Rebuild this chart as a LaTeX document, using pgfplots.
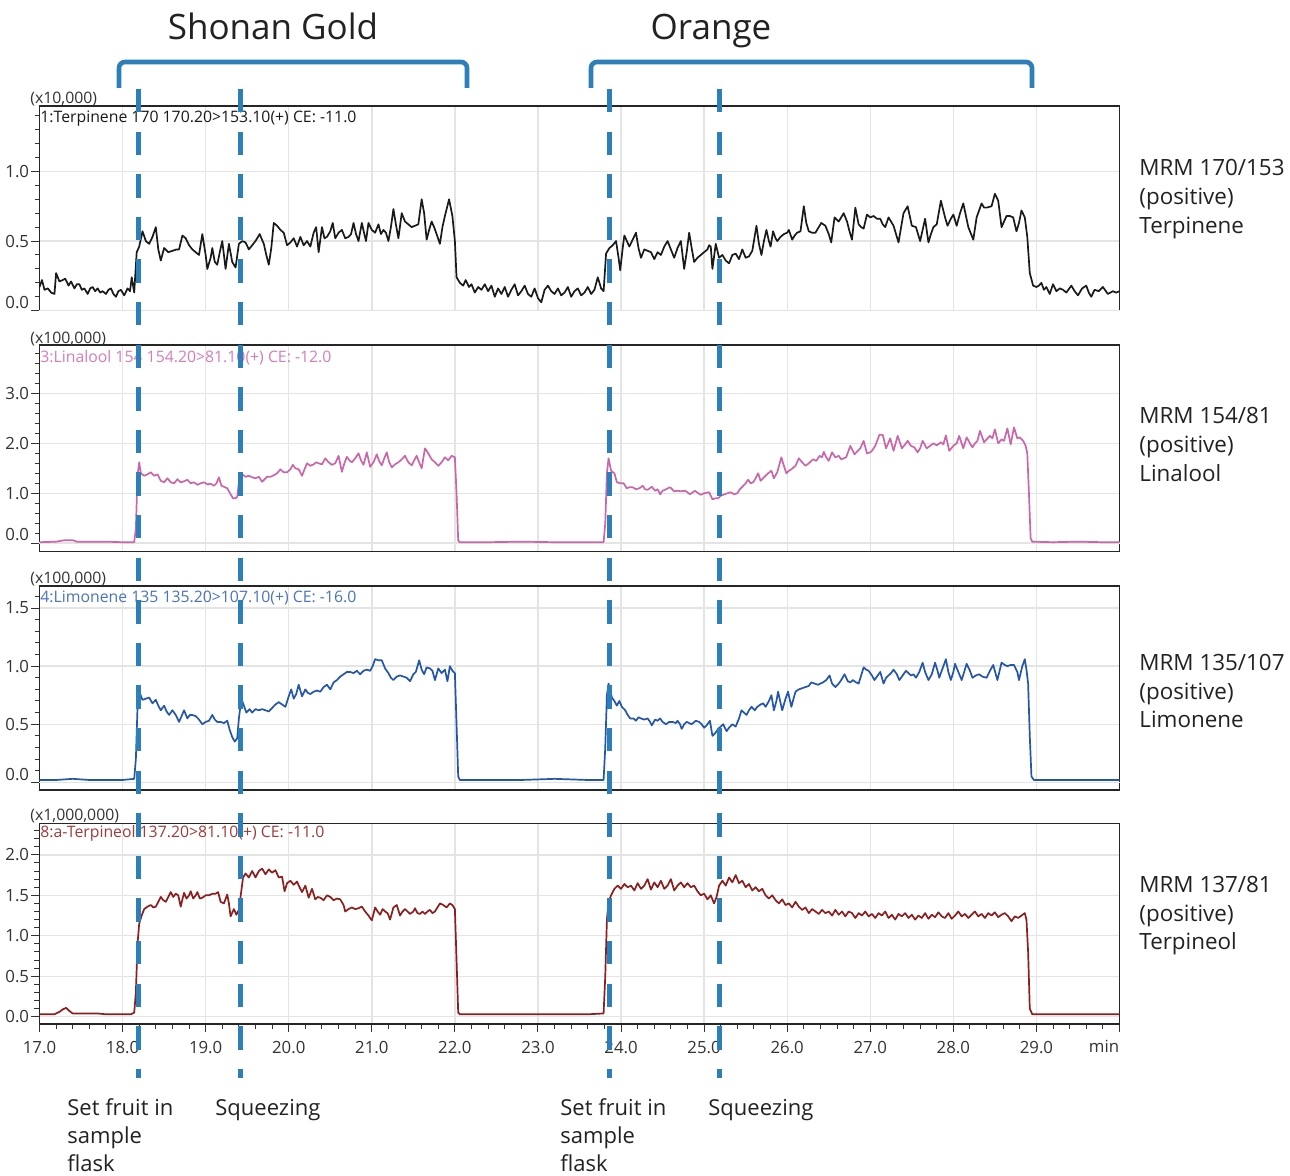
\documentclass[border=0pt]{standalone}
\usepackage{fontspec}
\setmainfont{Open Sans}
\usepackage{pgfplots}
\pgfplotsset{compat=1.18}
\definecolor{dashblue}{HTML}{2C7FB8}
\definecolor{terp}{HTML}{1A1A1A}
\definecolor{lina}{HTML}{CC66AA}
\definecolor{linatext}{HTML}{D77CBC}
\definecolor{limo}{HTML}{2456AA}
\definecolor{limotext}{HTML}{4A74BE}
\definecolor{terpol}{HTML}{8C1E1E}
\definecolor{terpoltext}{HTML}{A23A3A}
\definecolor{gridc}{HTML}{E4E4E4}
\definecolor{tickc}{HTML}{333333}
\definecolor{textc}{HTML}{222222}
\newcommand{\smallf}{\fontsize{7.9}{9}\selectfont}
\newcommand{\bigf}{\fontsize{11.2}{14}\selectfont}
\pgfplotsset{
  panel/.style={
    scale only axis, width=540pt, xmin=17, xmax=30,
    axis line style={black!85, line width=0.6pt},
    xtick={17,...,30},
    grid=major, major grid style={gridc, line width=0.7pt},
    tick align=outside, ytick pos=left, xtick pos=bottom,
    major tick length=4pt, minor tick length=2pt,
    tick style={tickc, line width=0.5pt},
    /pgf/number format/assume math mode=true,
    tick label style={font=\fontsize{8.4}{10}\selectfont, text=tickc},
    yticklabel style={/pgf/number format/fixed, /pgf/number format/fixed zerofill, /pgf/number format/precision=1, inner xsep=1pt},
    clip mode=individual,
    every axis plot/.append style={line width=0.85pt, line join=round},
  },
  upper/.style={panel, xticklabels={}, xtick style={draw=none}},
}
\begin{document}
\begin{tikzpicture}
\fill[white] (0,0) rectangle (645pt,588pt);
\useasboundingbox (0,0) rectangle (645pt,588pt);

% ---------- Panel 1: Terpinene ----------
\begin{axis}[upper, at={(19.75pt,432.65pt)}, anchor=south west, height=102.35pt,
  ymin=0, ymax=1.47, ytick={0.5,1}, minor ytick={0.1,0.2,...,1.41},
  extra y ticks={0}, extra y tick labels={0.0}, extra y tick style={yticklabel style={yshift=3.85pt}}]
\addplot[terp] coordinates {
(17.00,0.17) (17.03,0.22) (17.06,0.15) (17.10,0.16) (17.14,0.13) (17.18,0.12) (17.20,0.27) (17.24,0.21) (17.28,0.22) (17.31,0.23) (17.35,0.18) (17.38,0.21) (17.42,0.16) (17.45,0.19) (17.48,0.19) (17.51,0.15) (17.54,0.16) (17.58,0.12) (17.61,0.16) (17.64,0.17) (17.67,0.14) (17.70,0.16) (17.73,0.13) (17.76,0.14) (17.80,0.12) (17.83,0.15) (17.86,0.16) (17.89,0.12) (17.92,0.10) (17.95,0.14) (17.98,0.15) (18.02,0.11) (18.06,0.16) (18.09,0.14) (18.11,0.24) (18.14,0.13) (18.17,0.42) (18.20,0.46) (18.24,0.57) (18.28,0.50) (18.32,0.48) (18.36,0.53) (18.40,0.60) (18.43,0.44) (18.46,0.36) (18.50,0.45) (18.55,0.42) (18.60,0.43) (18.65,0.44) (18.68,0.44) (18.72,0.54) (18.76,0.52) (18.80,0.47) (18.84,0.44) (18.88,0.42) (18.92,0.40) (18.96,0.55) (19.00,0.40) (19.02,0.30) (19.06,0.38) (19.08,0.45) (19.11,0.35) (19.14,0.33) (19.17,0.42) (19.20,0.50) (19.24,0.30) (19.28,0.48) (19.32,0.35) (19.36,0.31) (19.40,0.48) (19.44,0.50) (19.48,0.49) (19.52,0.44) (19.56,0.47) (19.60,0.50) (19.65,0.55) (19.70,0.48) (19.73,0.40) (19.76,0.33) (19.79,0.45) (19.82,0.63) (19.86,0.61) (19.90,0.58) (19.94,0.56) (19.98,0.47) (20.02,0.49) (20.06,0.52) (20.10,0.46) (20.14,0.53) (20.18,0.47) (20.22,0.50) (20.26,0.46) (20.30,0.56) (20.33,0.60) (20.36,0.42) (20.40,0.60) (20.43,0.52) (20.46,0.53) (20.50,0.57) (20.53,0.63) (20.56,0.52) (20.60,0.56) (20.64,0.58) (20.68,0.52) (20.72,0.53) (20.75,0.55) (20.78,0.63) (20.81,0.55) (20.84,0.50) (20.88,0.63) (20.91,0.55) (20.93,0.50) (20.96,0.63) (21.00,0.58) (21.04,0.56) (21.08,0.62) (21.11,0.55) (21.14,0.58) (21.17,0.56) (21.20,0.50) (21.23,0.60) (21.26,0.73) (21.29,0.62) (21.32,0.52) (21.36,0.70) (21.40,0.64) (21.44,0.62) (21.48,0.60) (21.52,0.61) (21.56,0.62) (21.60,0.80) (21.63,0.70) (21.66,0.51) (21.69,0.58) (21.72,0.64) (21.75,0.60) (21.78,0.55) (21.82,0.48) (21.85,0.60) (21.88,0.68) (21.93,0.80) (21.97,0.68) (22.00,0.50) (22.02,0.24) (22.06,0.20) (22.10,0.18) (22.13,0.22) (22.17,0.17) (22.20,0.19) (22.24,0.13) (22.28,0.17) (22.32,0.15) (22.36,0.19) (22.40,0.14) (22.44,0.18) (22.48,0.10) (22.52,0.16) (22.56,0.12) (22.60,0.17) (22.64,0.10) (22.68,0.15) (22.72,0.19) (22.76,0.11) (22.80,0.14) (22.84,0.18) (22.88,0.12) (22.92,0.10) (22.96,0.16) (23.00,0.09) (23.04,0.06) (23.08,0.15) (23.12,0.18) (23.16,0.14) (23.20,0.12) (23.24,0.16) (23.28,0.11) (23.32,0.13) (23.36,0.17) (23.40,0.10) (23.44,0.14) (23.48,0.16) (23.52,0.11) (23.56,0.13) (23.60,0.17) (23.64,0.12) (23.68,0.15) (23.72,0.24) (23.76,0.16) (23.79,0.14) (23.82,0.41) (23.86,0.45) (23.90,0.47) (23.94,0.50) (23.97,0.38) (23.99,0.29) (24.02,0.45) (24.04,0.54) (24.07,0.50) (24.10,0.46) (24.14,0.51) (24.18,0.56) (24.21,0.45) (24.24,0.38) (24.28,0.44) (24.32,0.43) (24.36,0.42) (24.40,0.37) (24.44,0.42) (24.48,0.40) (24.52,0.46) (24.56,0.50) (24.60,0.44) (24.64,0.38) (24.68,0.45) (24.72,0.50) (24.76,0.30) (24.79,0.42) (24.82,0.56) (24.85,0.45) (24.88,0.35) (24.92,0.38) (24.96,0.40) (25.00,0.42) (25.04,0.44) (25.06,0.47) (25.08,0.46) (25.10,0.30) (25.14,0.48) (25.18,0.38) (25.22,0.40) (25.26,0.36) (25.30,0.34) (25.34,0.40) (25.38,0.41) (25.42,0.37) (25.46,0.44) (25.50,0.38) (25.54,0.39) (25.58,0.43) (25.63,0.61) (25.66,0.48) (25.69,0.40) (25.72,0.50) (25.75,0.58) (25.78,0.50) (25.80,0.46) (25.83,0.57) (25.86,0.52) (25.88,0.50) (25.92,0.53) (25.96,0.55) (26.00,0.56) (26.02,0.58) (26.06,0.51) (26.09,0.54) (26.12,0.56) (26.16,0.57) (26.20,0.75) (26.23,0.63) (26.26,0.57) (26.30,0.56) (26.34,0.56) (26.38,0.60) (26.41,0.63) (26.46,0.61) (26.50,0.55) (26.53,0.49) (26.57,0.67) (26.62,0.64) (26.68,0.70) (26.72,0.64) (26.75,0.57) (26.78,0.51) (26.82,0.74) (26.86,0.62) (26.89,0.60) (26.92,0.59) (26.96,0.69) (27.00,0.67) (27.04,0.68) (27.08,0.66) (27.12,0.66) (27.15,0.62) (27.18,0.60) (27.22,0.67) (27.28,0.61) (27.31,0.55) (27.34,0.49) (27.40,0.70) (27.45,0.75) (27.50,0.61) (27.55,0.60) (27.60,0.50) (27.63,0.58) (27.66,0.66) (27.70,0.49) (27.73,0.55) (27.76,0.60) (27.80,0.62) (27.85,0.79) (27.90,0.67) (27.93,0.61) (27.97,0.66) (28.00,0.69) (28.04,0.61) (28.08,0.70) (28.12,0.77) (28.18,0.60) (28.24,0.51) (28.28,0.67) (28.34,0.77) (28.37,0.74) (28.40,0.74) (28.46,0.75) (28.50,0.84) (28.54,0.79) (28.58,0.60) (28.64,0.68) (28.68,0.68) (28.72,0.67) (28.76,0.57) (28.79,0.63) (28.82,0.72) (28.86,0.67) (28.89,0.53) (28.92,0.27) (28.96,0.18) (29.00,0.17) (29.03,0.18) (29.06,0.20) (29.09,0.15) (29.12,0.17) (29.16,0.12) (29.20,0.19) (29.24,0.14) (29.28,0.16) (29.32,0.15) (29.36,0.13) (29.42,0.18) (29.46,0.14) (29.50,0.11) (29.55,0.16) (29.60,0.18) (29.63,0.13) (29.66,0.10) (29.70,0.15) (29.75,0.14) (29.80,0.17) (29.86,0.12) (29.92,0.14) (29.96,0.13) (30.00,0.14)
};
\end{axis}

% ---------- Panel 2: Linalool ----------
\begin{axis}[upper, at={(19.75pt,312.15pt)}, anchor=south west, height=103.35pt,
  ymin=-0.17, ymax=3.97, ytick={1,2,3}, minor ytick={0.2,0.4,...,3.81},
  extra y ticks={0}, extra y tick labels={0.0}, extra y tick style={yticklabel style={yshift=4.5pt}}]
\addplot[lina] coordinates {
(17.00,0.02) (17.20,0.03) (17.30,0.06) (17.40,0.06) (17.45,0.03) (17.60,0.03) (17.80,0.03) (18.00,0.02) (18.14,0.02) (18.16,0.30) (18.18,1.35) (18.20,1.62) (18.22,1.40) (18.26,1.35) (18.30,1.38) (18.34,1.42) (18.38,1.35) (18.42,1.38) (18.46,1.25) (18.50,1.22) (18.54,1.30) (18.58,1.22) (18.62,1.20) (18.66,1.28) (18.70,1.22) (18.74,1.24) (18.78,1.27) (18.82,1.20) (18.86,1.22) (18.90,1.17) (18.94,1.20) (18.98,1.22) (19.02,1.18) (19.06,1.19) (19.10,1.15) (19.13,1.20) (19.16,1.32) (19.19,1.15) (19.22,1.13) (19.26,1.10) (19.30,0.98) (19.33,0.90) (19.36,0.90) (19.38,0.93) (19.41,1.35) (19.44,1.38) (19.48,1.33) (19.52,1.35) (19.56,1.32) (19.60,1.30) (19.64,1.33) (19.68,1.23) (19.71,1.28) (19.74,1.33) (19.78,1.33) (19.82,1.36) (19.86,1.40) (19.90,1.48) (19.94,1.42) (19.98,1.42) (20.02,1.48) (20.05,1.57) (20.08,1.50) (20.12,1.48) (20.16,1.35) (20.19,1.48) (20.22,1.60) (20.26,1.55) (20.30,1.58) (20.33,1.62) (20.36,1.60) (20.40,1.58) (20.44,1.70) (20.48,1.62) (20.52,1.57) (20.56,1.60) (20.60,1.75) (20.64,1.43) (20.67,1.60) (20.70,1.73) (20.73,1.66) (20.76,1.62) (20.80,1.70) (20.84,1.80) (20.87,1.66) (20.90,1.57) (20.94,1.82) (20.98,1.53) (21.02,1.62) (21.06,1.78) (21.09,1.64) (21.12,1.56) (21.15,1.70) (21.18,1.82) (21.21,1.62) (21.24,1.52) (21.28,1.58) (21.32,1.62) (21.36,1.68) (21.40,1.75) (21.44,1.62) (21.48,1.56) (21.51,1.66) (21.54,1.75) (21.57,1.62) (21.60,1.50) (21.64,1.90) (21.68,1.80) (21.72,1.68) (21.76,1.62) (21.80,1.55) (21.84,1.62) (21.88,1.72) (21.92,1.66) (21.96,1.75) (22.00,1.72) (22.02,1.00) (22.04,0.05) (22.06,0.02) (22.40,0.02) (22.80,0.03) (23.20,0.02) (23.60,0.02) (23.79,0.02) (23.81,0.40) (23.83,1.40) (23.85,1.70) (23.88,1.45) (23.92,1.40) (23.95,1.22) (23.99,1.20) (24.03,1.20) (24.07,1.10) (24.10,1.12) (24.14,1.12) (24.18,1.08) (24.22,1.10) (24.26,1.15) (24.29,1.08) (24.32,1.07) (24.37,1.13) (24.41,1.05) (24.44,1.08) (24.47,0.98) (24.50,1.05) (24.54,1.08) (24.59,1.12) (24.64,1.04) (24.68,1.05) (24.72,1.04) (24.77,1.05) (24.80,1.02) (24.83,0.98) (24.89,1.05) (24.93,1.00) (24.96,0.97) (25.00,1.00) (25.06,1.02) (25.10,0.88) (25.14,0.90) (25.17,0.90) (25.20,0.95) (25.23,0.97) (25.28,1.00) (25.32,1.02) (25.36,0.98) (25.40,1.00) (25.43,1.08) (25.46,1.13) (25.50,1.20) (25.53,1.27) (25.56,1.20) (25.59,1.22) (25.62,1.30) (25.65,1.40) (25.68,1.25) (25.71,1.30) (25.74,1.35) (25.77,1.40) (25.81,1.45) (25.84,1.30) (25.88,1.42) (25.93,1.72) (25.96,1.55) (25.99,1.40) (26.02,1.45) (26.05,1.48) (26.10,1.55) (26.14,1.70) (26.18,1.62) (26.22,1.55) (26.26,1.60) (26.31,1.68) (26.35,1.65) (26.39,1.75) (26.42,1.72) (26.44,1.83) (26.47,1.72) (26.50,1.65) (26.54,1.82) (26.58,1.72) (26.62,1.75) (26.65,1.68) (26.68,1.70) (26.71,1.72) (26.76,1.95) (26.79,1.85) (26.81,1.78) (26.85,1.85) (26.88,1.90) (26.92,2.05) (26.96,1.80) (27.00,1.82) (27.02,1.85) (27.06,1.95) (27.11,2.17) (27.15,2.17) (27.19,1.90) (27.24,2.10) (27.28,1.85) (27.33,2.15) (27.38,1.90) (27.42,1.98) (27.45,2.05) (27.49,1.95) (27.53,1.92) (27.57,1.82) (27.60,1.90) (27.63,2.05) (27.68,1.90) (27.72,1.95) (27.76,2.00) (27.80,1.96) (27.85,2.02) (27.88,1.98) (27.91,2.16) (27.95,1.85) (28.00,1.95) (28.04,2.00) (28.07,2.15) (28.12,1.90) (28.16,2.12) (28.20,2.00) (28.23,1.92) (28.26,2.00) (28.29,2.05) (28.32,2.25) (28.37,2.02) (28.40,2.08) (28.44,2.15) (28.47,2.10) (28.50,2.28) (28.54,2.00) (28.58,2.08) (28.61,2.05) (28.65,2.30) (28.69,1.98) (28.73,2.32) (28.77,2.10) (28.80,2.12) (28.84,2.05) (28.87,1.95) (28.89,1.80) (28.91,1.00) (28.93,0.10) (28.95,0.03) (29.20,0.02) (29.50,0.03) (29.80,0.02) (30.00,0.02)
};
\end{axis}

% ---------- Panel 3: Limonene ----------
\begin{axis}[upper, at={(19.75pt,193pt)}, anchor=south west, height=102pt,
  ymin=-0.066, ymax=1.69, ytick={0.5,1,1.5}, minor ytick={0.1,0.2,...,1.61},
  extra y ticks={0}, extra y tick labels={0.0}, extra y tick style={yticklabel style={yshift=3.65pt}}]
\addplot[limo] coordinates {
(17.00,0.02) (17.20,0.02) (17.40,0.03) (17.60,0.02) (17.80,0.02) (18.00,0.02) (18.14,0.03) (18.16,0.20) (18.18,0.65) (18.20,0.78) (18.24,0.71) (18.28,0.72) (18.32,0.73) (18.36,0.68) (18.40,0.71) (18.43,0.66) (18.46,0.62) (18.50,0.66) (18.53,0.61) (18.56,0.58) (18.60,0.62) (18.64,0.58) (18.68,0.52) (18.71,0.57) (18.74,0.62) (18.78,0.55) (18.81,0.58) (18.84,0.58) (18.88,0.57) (18.92,0.54) (18.96,0.50) (19.00,0.52) (19.04,0.53) (19.08,0.58) (19.11,0.54) (19.14,0.52) (19.18,0.52) (19.22,0.51) (19.26,0.53) (19.29,0.45) (19.32,0.39) (19.35,0.35) (19.38,0.38) (19.40,0.55) (19.43,0.72) (19.46,0.66) (19.49,0.60) (19.53,0.63) (19.56,0.60) (19.60,0.63) (19.64,0.62) (19.68,0.63) (19.72,0.62) (19.76,0.61) (19.80,0.64) (19.84,0.67) (19.88,0.69) (19.92,0.67) (19.96,0.65) (20.00,0.74) (20.03,0.80) (20.06,0.72) (20.09,0.76) (20.12,0.84) (20.16,0.74) (20.20,0.80) (20.23,0.77) (20.26,0.76) (20.30,0.78) (20.34,0.79) (20.38,0.78) (20.42,0.82) (20.46,0.84) (20.50,0.80) (20.54,0.86) (20.58,0.88) (20.62,0.91) (20.66,0.93) (20.70,0.95) (20.74,0.95) (20.78,0.94) (20.82,0.96) (20.86,0.93) (20.90,0.96) (20.94,0.97) (20.98,0.96) (21.01,1.00) (21.04,1.06) (21.08,1.05) (21.12,1.05) (21.16,0.98) (21.20,0.94) (21.23,0.90) (21.26,0.88) (21.30,0.91) (21.34,0.92) (21.38,0.91) (21.42,0.90) (21.46,0.87) (21.50,0.93) (21.53,0.95) (21.57,1.05) (21.60,0.97) (21.63,0.93) (21.66,0.99) (21.70,0.98) (21.73,0.96) (21.76,0.88) (21.80,0.98) (21.84,0.94) (21.88,0.97) (21.91,0.87) (21.94,1.00) (21.97,0.96) (22.00,0.94) (22.02,0.50) (22.04,0.05) (22.06,0.02) (22.40,0.02) (22.80,0.02) (23.20,0.03) (23.60,0.02) (23.79,0.02) (23.81,0.30) (23.83,0.75) (23.85,0.85) (23.89,0.73) (23.92,0.70) (23.95,0.66) (23.98,0.70) (24.01,0.65) (24.05,0.62) (24.08,0.58) (24.11,0.55) (24.15,0.55) (24.18,0.53) (24.21,0.56) (24.24,0.55) (24.28,0.54) (24.32,0.55) (24.35,0.52) (24.37,0.49) (24.41,0.54) (24.44,0.53) (24.47,0.55) (24.50,0.52) (24.54,0.50) (24.58,0.52) (24.62,0.52) (24.66,0.51) (24.68,0.53) (24.71,0.50) (24.73,0.46) (24.76,0.50) (24.79,0.52) (24.82,0.51) (24.85,0.50) (24.90,0.53) (24.94,0.52) (24.97,0.50) (25.00,0.47) (25.03,0.49) (25.07,0.53) (25.10,0.40) (25.13,0.42) (25.17,0.46) (25.20,0.48) (25.23,0.50) (25.27,0.44) (25.30,0.47) (25.34,0.50) (25.38,0.48) (25.42,0.55) (25.45,0.62) (25.48,0.60) (25.51,0.58) (25.54,0.62) (25.57,0.65) (25.61,0.62) (25.64,0.65) (25.68,0.67) (25.71,0.68) (25.74,0.65) (25.78,0.70) (25.81,0.75) (25.84,0.62) (25.87,0.70) (25.89,0.78) (25.94,0.62) (25.98,0.72) (26.01,0.78) (26.05,0.65) (26.08,0.73) (26.10,0.78) (26.14,0.80) (26.18,0.81) (26.22,0.82) (26.26,0.83) (26.29,0.86) (26.33,0.85) (26.37,0.84) (26.40,0.85) (26.43,0.86) (26.47,0.88) (26.51,0.92) (26.54,0.85) (26.58,0.82) (26.62,0.85) (26.65,0.88) (26.69,0.93) (26.73,0.87) (26.76,0.86) (26.79,0.88) (26.83,0.86) (26.86,0.85) (26.89,0.92) (26.92,0.99) (26.95,0.97) (26.98,0.96) (27.02,0.92) (27.05,0.88) (27.09,0.92) (27.12,0.95) (27.16,0.85) (27.19,0.90) (27.22,0.92) (27.25,0.94) (27.28,0.97) (27.32,0.93) (27.35,0.88) (27.39,0.92) (27.43,0.96) (27.46,0.94) (27.49,0.92) (27.52,0.93) (27.55,0.90) (27.59,0.95) (27.63,1.03) (27.66,0.95) (27.70,0.88) (27.74,0.93) (27.78,1.03) (27.81,0.96) (27.83,0.90) (27.87,0.98) (27.91,1.06) (27.94,0.95) (27.97,0.88) (28.00,0.95) (28.02,1.02) (28.06,0.95) (28.10,0.88) (28.13,0.95) (28.16,1.02) (28.20,0.96) (28.23,0.90) (28.27,0.92) (28.31,0.93) (28.35,0.91) (28.40,0.90) (28.44,0.96) (28.48,1.01) (28.53,0.88) (28.58,1.03) (28.62,1.01) (28.65,1.00) (28.69,1.01) (28.73,1.01) (28.77,0.95) (28.79,0.88) (28.83,1.00) (28.86,1.06) (28.88,0.97) (28.90,0.85) (28.92,0.40) (28.94,0.05) (28.97,0.02) (29.20,0.02) (29.50,0.02) (29.80,0.02) (30.00,0.02)
};
\end{axis}

% ---------- Panel 4: Terpineol ----------
\begin{axis}[panel, at={(19.75pt,76pt)}, anchor=south west, height=100.35pt,
  ymin=-0.09, ymax=2.39, ytick={0,0.5,1,1.5,2}, minor ytick={0.1,0.2,...,2.31},
  minor xtick={17.2,17.4,...,29.9}, minor tick length=2.5pt,
  xticklabels={17.0,18.0,19.0,20.0,21.0,22.0,23.0,24.0,25.0,26.0,27.0,28.0,29.0,{}},
  xticklabel style={yshift=-1pt}]
\addplot[terpol] coordinates {
(17.00,0.03) (17.10,0.03) (17.18,0.03) (17.24,0.06) (17.28,0.09) (17.32,0.11) (17.36,0.07) (17.40,0.04) (17.50,0.04) (17.60,0.04) (17.70,0.04) (17.80,0.03) (17.90,0.03) (18.00,0.03) (18.10,0.03) (18.14,0.05) (18.16,0.30) (18.18,0.90) (18.20,1.15) (18.23,1.25) (18.26,1.33) (18.30,1.36) (18.34,1.38) (18.37,1.35) (18.40,1.36) (18.43,1.42) (18.46,1.48) (18.49,1.44) (18.52,1.42) (18.55,1.48) (18.58,1.54) (18.61,1.48) (18.64,1.52) (18.67,1.50) (18.70,1.36) (18.72,1.45) (18.74,1.53) (18.77,1.46) (18.80,1.50) (18.82,1.55) (18.85,1.46) (18.88,1.50) (18.90,1.54) (18.93,1.46) (18.96,1.47) (19.00,1.50) (19.04,1.50) (19.08,1.52) (19.12,1.52) (19.15,1.54) (19.18,1.42) (19.22,1.40) (19.26,1.51) (19.28,1.40) (19.30,1.24) (19.34,1.33) (19.37,1.26) (19.40,1.32) (19.42,1.48) (19.45,1.72) (19.48,1.77) (19.52,1.72) (19.56,1.80) (19.60,1.72) (19.64,1.80) (19.68,1.83) (19.72,1.76) (19.76,1.82) (19.80,1.78) (19.84,1.81) (19.88,1.72) (19.92,1.73) (19.95,1.55) (19.98,1.65) (20.02,1.68) (20.06,1.63) (20.10,1.67) (20.13,1.60) (20.16,1.54) (20.20,1.62) (20.24,1.47) (20.28,1.58) (20.32,1.45) (20.35,1.48) (20.38,1.47) (20.42,1.44) (20.46,1.50) (20.50,1.48) (20.54,1.44) (20.58,1.46) (20.62,1.45) (20.66,1.38) (20.68,1.30) (20.72,1.33) (20.76,1.35) (20.80,1.33) (20.84,1.34) (20.88,1.36) (20.92,1.30) (20.96,1.25) (21.00,1.19) (21.04,1.35) (21.07,1.30) (21.10,1.26) (21.13,1.33) (21.16,1.30) (21.19,1.28) (21.22,1.20) (21.26,1.35) (21.30,1.38) (21.34,1.25) (21.37,1.30) (21.40,1.33) (21.43,1.30) (21.46,1.27) (21.50,1.30) (21.52,1.34) (21.55,1.28) (21.58,1.27) (21.61,1.30) (21.64,1.27) (21.67,1.30) (21.70,1.32) (21.73,1.28) (21.76,1.30) (21.79,1.35) (21.82,1.40) (21.86,1.38) (21.90,1.35) (21.94,1.40) (21.97,1.38) (22.00,1.33) (22.02,0.70) (22.04,0.05) (22.06,0.03) (22.40,0.03) (22.80,0.03) (23.20,0.03) (23.60,0.03) (23.79,0.04) (23.81,0.50) (23.83,1.20) (23.85,1.42) (23.88,1.50) (23.92,1.58) (23.96,1.62) (24.00,1.58) (24.04,1.64) (24.08,1.60) (24.12,1.62) (24.16,1.56) (24.20,1.65) (24.24,1.58) (24.28,1.62) (24.32,1.70) (24.36,1.57) (24.40,1.66) (24.44,1.60) (24.48,1.68) (24.52,1.58) (24.56,1.62) (24.60,1.70) (24.64,1.56) (24.68,1.62) (24.72,1.66) (24.76,1.60) (24.80,1.65) (24.84,1.60) (24.88,1.62) (24.92,1.55) (24.96,1.50) (25.00,1.52) (25.04,1.45) (25.08,1.50) (25.12,1.40) (25.15,1.48) (25.18,1.62) (25.22,1.68) (25.26,1.62) (25.30,1.72) (25.34,1.66) (25.38,1.75) (25.42,1.65) (25.46,1.68) (25.50,1.60) (25.54,1.64) (25.58,1.56) (25.62,1.60) (25.66,1.55) (25.70,1.58) (25.74,1.50) (25.78,1.46) (25.82,1.50) (25.86,1.44) (25.90,1.40) (25.94,1.45) (25.98,1.38) (26.02,1.40) (26.06,1.35) (26.10,1.42) (26.14,1.36) (26.18,1.32) (26.22,1.35) (26.26,1.28) (26.30,1.33) (26.34,1.30) (26.38,1.27) (26.42,1.32) (26.46,1.28) (26.50,1.30) (26.54,1.25) (26.58,1.32) (26.62,1.26) (26.66,1.30) (26.70,1.24) (26.74,1.30) (26.78,1.28) (26.82,1.22) (26.86,1.28) (26.90,1.25) (26.94,1.30) (26.98,1.24) (27.02,1.27) (27.06,1.22) (27.10,1.28) (27.14,1.25) (27.18,1.30) (27.22,1.22) (27.26,1.26) (27.30,1.20) (27.34,1.27) (27.38,1.24) (27.42,1.28) (27.46,1.22) (27.50,1.26) (27.54,1.20) (27.58,1.25) (27.62,1.22) (27.66,1.28) (27.70,1.21) (27.74,1.26) (27.78,1.23) (27.82,1.29) (27.86,1.24) (27.90,1.22) (27.94,1.28) (27.98,1.21) (28.02,1.25) (28.06,1.30) (28.10,1.24) (28.14,1.27) (28.18,1.22) (28.22,1.26) (28.26,1.30) (28.30,1.24) (28.34,1.27) (28.38,1.22) (28.42,1.28) (28.46,1.25) (28.50,1.29) (28.54,1.23) (28.58,1.26) (28.62,1.28) (28.66,1.24) (28.70,1.18) (28.74,1.24) (28.78,1.22) (28.82,1.25) (28.86,1.28) (28.88,1.20) (28.90,0.80) (28.92,0.10) (28.95,0.03) (29.20,0.03) (29.50,0.03) (29.80,0.03) (30.00,0.03)
};
\node[anchor=north east, inner sep=0pt, font=\fontsize{8.4}{10}\selectfont, text=tickc] at (rel axis cs:1,0) [yshift=-8pt] {min};
\end{axis}

% ---------- annotations in pixel coordinates ----------
\begin{scope}[x=0.5pt, y=-0.5pt, yshift=588pt]
  % scale labels
  \node[anchor=base west, inner sep=0, font=\smallf, text=tickc] at (30,104) {(x10,000)};
  \node[anchor=base west, inner sep=0, font=\smallf, text=tickc] at (30,344) {(x100,000)};
  \node[anchor=base west, inner sep=0, font=\smallf, text=tickc] at (30,584) {(x100,000)};
  \node[anchor=base west, inner sep=0, font=\smallf, text=tickc] at (30,821) {(x1,000,000)};
  % headers
  \node[anchor=base west, inner sep=0, font=\smallf, text=terp] at (40,123) {1:Terpinene 170 170.20>153.10(+) CE: -11.0};
  \node[anchor=base west, inner sep=0, font=\smallf, text=linatext] at (40,363) {3:Linalool 154 154.20>81.10(+) CE: -12.0};
  \node[anchor=base west, inner sep=0, font=\smallf, text=limotext] at (40,603) {4:Limonene 135 135.20>107.10(+) CE: -16.0};
  \node[anchor=base west, inner sep=0, font=\smallf, text=terpoltext] at (40,838) {8:a-Terpineol 137.20>81.10(+) CE: -11.0};
  % titles
  \node[anchor=base, inner sep=0, font=\fontsize{17.5}{20}\selectfont, text=textc] at (273,40) {Shonan Gold};
  \node[anchor=base, inner sep=0, font=\fontsize{17.5}{20}\selectfont, text=textc] at (711,40) {Orange};
  % brackets
  \draw[dashblue, line width=2.3pt, rounded corners=3pt] (119,88) -- (119,62) -- (467,62) -- (467,88);
  \draw[dashblue, line width=2.3pt, rounded corners=3pt] (591,88) -- (591,62) -- (1032,62) -- (1032,88);
  % event lines
  \foreach \xx in {138.5,240.2,609.3,719.2}
    \draw[dashblue, line width=2.5pt, dash pattern=on 11.7pt off 9.6pt] (\xx,89) -- (\xx,1078);
  % right-hand labels
  \begin{scope}[every node/.style={anchor=base west, inner sep=0, font=\bigf, text=textc}]
    \node at (1139,176) {MRM 170/153}; \node at (1139,205) {(positive)}; \node at (1139,234) {Terpinene};
    \node at (1139,424) {MRM 154/81};  \node at (1139,453) {(positive)}; \node at (1139,482) {Linalool};
    \node at (1139,671) {MRM 135/107}; \node at (1139,700) {(positive)}; \node at (1139,728) {Limonene};
    \node at (1139,893) {MRM 137/81};  \node at (1139,922) {(positive)}; \node at (1139,950) {Terpineol};
  \end{scope}
  \begin{scope}[every node/.style={anchor=base west, inner sep=0, font=\fontsize{11}{14}\selectfont, text=textc}]
    % bottom annotations
    \node at (67,1116) {Set fruit in}; \node at (67,1144) {sample}; \node at (67,1172) {flask};
    \node at (215,1116) {Squeezing};
    \node at (560,1116) {Set fruit in}; \node at (560,1144) {sample}; \node at (560,1172) {flask};
    \node at (708,1116) {Squeezing};
  \end{scope}
\end{scope}
\end{tikzpicture}
\end{document}
